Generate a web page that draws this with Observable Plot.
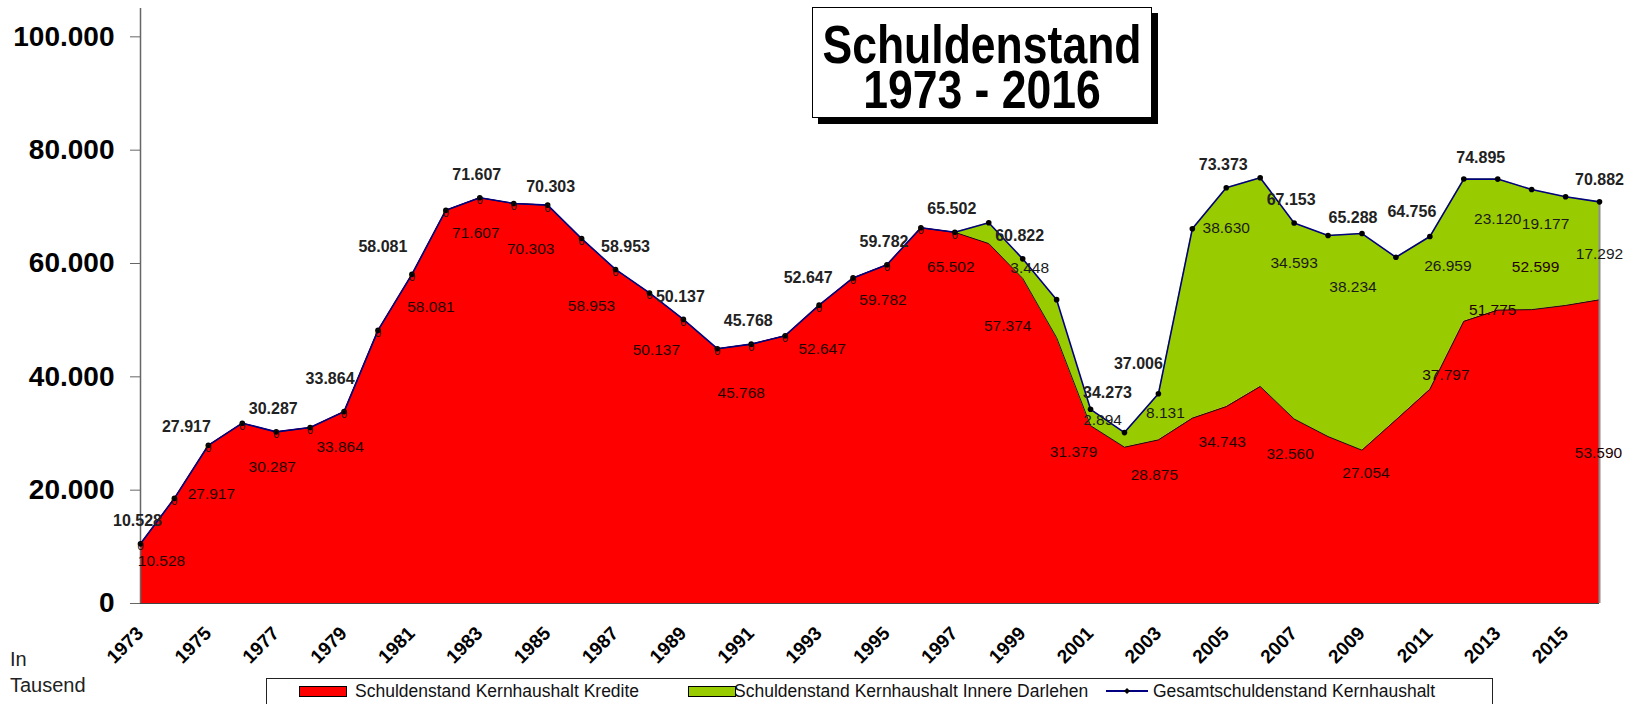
<!DOCTYPE html>
<html><head><meta charset="utf-8">
<script src="https://cdn.jsdelivr.net/npm/d3@7"></script>
<script src="https://cdn.jsdelivr.net/npm/@observablehq/plot@0.6"></script>
<style>
body{margin:0;background:#fff;font-family:"Liberation Sans",Arial,sans-serif;}
#wrap{position:relative;width:1633px;height:704px;overflow:hidden;background:#fff;}
#chart{position:absolute;left:0;top:0;}
#title{position:absolute;left:812px;top:7px;width:338px;height:109px;border:1px solid #000;background:#fff;box-shadow:6px 6px 0 #000;}
#title .ln{position:relative;left:50%;width:600px;margin-left:-300px;text-align:center;font-weight:bold;font-size:53px;line-height:45px;white-space:nowrap;transform:scaleX(0.84);transform-origin:50% 50%;color:#000;}
#legend{position:absolute;left:266px;top:678px;width:1225px;height:40px;border:1px solid #222;background:#fff;}
.item{position:absolute;top:0;height:24px;display:flex;align-items:center;font-size:17.5px;color:#111;white-space:nowrap;}
.sw{display:inline-block;box-sizing:border-box;}
#unit{position:absolute;left:10px;top:646px;font-size:20px;line-height:26px;color:#222;}
</style></head>
<body>
<div id="wrap">
  <div id="chart"></div>
  <div id="title"><div style="height:14px"></div><div class="ln">Schuldenstand</div><div class="ln">1973 - 2016</div></div>
  <div id="legend"></div>
  <div id="unit">In<br>Tausend</div>
</div>
<script>
const years = [1973,1974,1975,1976,1977,1978,1979,1980,1981,1982,1983,1984,1985,1986,1987,1988,1989,1990,1991,1992,1993,1994,1995,1996,1997,1998,1999,2000,2001,2002,2003,2004,2005,2006,2007,2008,2009,2010,2011,2012,2013,2014,2015,2016];
// Schuldenstand Kernhaushalt Kredite
const kredite = [10528,18560,27917,31820,30287,31050,33864,48200,58081,69400,71607,70600,70303,64400,58953,54800,50137,44960,45768,47260,52647,57460,59782,66300,65502,63520,57374,46900,31379,27580,28875,32710,34743,38300,32560,29460,27054,32400,37797,49790,51775,51860,52599,53590];
// Schuldenstand Kernhaushalt Innere Darlehen
const innere = [0,0,0,0,0,0,0,0,0,0,0,0,0,0,0,0,0,0,0,0,0,0,0,0,0,3660,3448,6720,2894,2580,8131,33410,38630,36840,34593,35480,38234,28700,26959,25110,23120,21210,19177,17292];
// Gesamtschuldenstand Kernhaushalt
const gesamt = [10528,18560,27917,31820,30287,31050,33864,48200,58081,69400,71607,70600,70303,64400,58953,54800,50137,44960,45768,47260,52647,57460,59782,66300,65502,67180,60822,53620,34273,30160,37006,66120,73373,75140,67153,64940,65288,61100,64756,74900,74895,73070,71776,70882];
const xTickYears = [1973,1975,1977,1979,1981,1983,1985,1987,1989,1991,1993,1995,1997,1999,2001,2003,2005,2007,2009,2011,2013,2015];
const yTicks = [0,20000,40000,60000,80000,100000];
// years whose values carry a data label, per series
const krediteLabelYears = [1973,1975,1977,1979,1981,1983,1985,1987,1989,1991,1993,1995,1997,1999,2001,2003,2005,2007,2009,2011,2013,2015,2016];
const innereLabelYears = [1999,2001,2003,2005,2007,2009,2011,2013,2015,2016];
const gesamtLabelYears = [1973,1975,1977,1979,1981,1983,1985,1987,1989,1991,1993,1995,1997,1999,2001,2003,2005,2007,2009,2011,2013,2016];
const seriesNames = ["Schuldenstand Kernhaushalt Kredite","Schuldenstand Kernhaushalt Innere Darlehen","Gesamtschuldenstand Kernhaushalt"];
const colors = ["#ff0000","#99cc00","#000080"];

// label nudges in pixels (styling only)
const nudgeG = {1975:[-22,-18],1979:[-14,-33],1981:[-29,-27],1985:[3,-18],1987:[10,-23],1993:[-11,-27],2001:[17,-16],2003:[-20,-30],2009:[-9,-16],2011:[-18,-25],2013:[-17,-21],2016:[0,-22]};
const nudgeK = {1973:[21,17],1975:[3,49],1981:[19,33],1985:[-17,44],1987:[-24,37],1989:[-27,31],1991:[-10,49],1993:[3,44],1999:[-15,48],2001:[-17,26],2009:[4,23],2011:[16,-14],2013:[-5,0],2015:[-30,-38],2016:[-1,153]};
const nudgeI = {1999:[7,9],2001:[12,11],2003:[7,19],2009:[-9,53],2011:[18,29],2015:[-20,27],2016:[0,52]};

const de = d3.formatLocale({decimal:",",thousands:".",grouping:[3],currency:["","\u00a0€"]});
const fmt = de.format(",d");
const rows = years.map((year,i)=>({year,k:kredite[i],i:innere[i],g:gesamt[i]}));
const last = rows.filter(d => d.year === years[years.length-1]);

function labelMarks(yearsList, yKey, textKey, def, nudges, style){
  return rows.filter(d => yearsList.includes(d.year)).map(d => {
    const [dx,dy] = nudges[d.year] || def;
    return Plot.text([d], {x:"year", y:yKey, dx, dy, text:r=>fmt(r[textKey]), ...style});
  });
}

const chart = Plot.plot({
  width:1633, height:670,
  marginLeft:140, marginRight:34, marginTop:8, marginBottom:67,
  x:{domain:[1973,2016], axis:null},
  y:{domain:[0,105000], axis:null},
  style:{fontFamily:'"Liberation Sans",Arial,sans-serif', background:"#fff", overflow:"visible"},
  marks:[
    Plot.areaY(rows,{x:"year", y1:0, y2:"k", fill:colors[0]}),
    Plot.areaY(rows,{x:"year", y1:"k", y2:"g", fill:colors[1]}),
    Plot.line(rows,{x:"year", y:"k", stroke:"#111", strokeWidth:1}),
    Plot.ruleX(last,{x:"year", y1:0, y2:"g", stroke:"#8c8c8c", strokeWidth:2}),
    Plot.ruleY([0],{stroke:"#444", strokeWidth:1}),
    Plot.ruleX([1973],{stroke:"#666", strokeWidth:1.5}),
    Plot.axisY(yTicks,{tickFormat:fmt, tickSize:10, tickPadding:16, fontSize:28, fontWeight:"bold", stroke:"#666", fill:"#000", label:null}),
    Plot.text(xTickYears,{x:d=>d, frameAnchor:"bottom", rotate:-45, textAnchor:"end", lineAnchor:"bottom", dx:4, dy:31, text:d=>String(d), fontSize:19, fontWeight:"bold", fill:"#000"}),
    Plot.line(rows,{x:"year", y:"g", stroke:colors[2], strokeWidth:1.6}),
    Plot.dot(rows,{x:"year", y:"g", r:2.8, fill:"#000", stroke:"none"}),
    Plot.text(rows.filter(d=>d.i===0),{x:"year", y:"g", dy:3, text:d=>fmt(d.i), fontSize:11, fill:"#111"}),
    ...labelMarks(innereLabelYears, "g", "i", [0,40], nudgeI, {fontSize:15.5, fill:"#1a1a1a"}),
    ...labelMarks(krediteLabelYears, "k", "k", [-4,35], nudgeK, {fontSize:15.5, fill:"#220000"}),
    ...labelMarks(gesamtLabelYears, "g", "g", [-3,-23], nudgeG, {fontSize:16, fontWeight:"bold", fill:"#222"})
  ]
});
document.getElementById("chart").appendChild(chart);

// legend
const lg = document.getElementById("legend");
const lefts = [[32,88],[421,467],[839,886]];
seriesNames.forEach((name,j)=>{
  const sw = document.createElement("div");
  sw.className="item"; sw.style.left=lefts[j][0]+"px";
  if (j<2) {
    sw.innerHTML = `<span class="sw" style="width:48px;height:11px;background:${colors[j]};border:1px solid #000"></span>`;
  } else {
    sw.innerHTML = `<svg width="42" height="12"><line x1="0" y1="6" x2="42" y2="6" stroke="${colors[j]}" stroke-width="1.8"/><path d="M21 3 L24 6 L21 9 L18 6 Z" fill="#000"/></svg>`;
  }
  lg.appendChild(sw);
  const t = document.createElement("div");
  t.className="item"; t.style.left=lefts[j][1]+"px"; t.textContent=name;
  lg.appendChild(t);
});
</script>
</body></html>
